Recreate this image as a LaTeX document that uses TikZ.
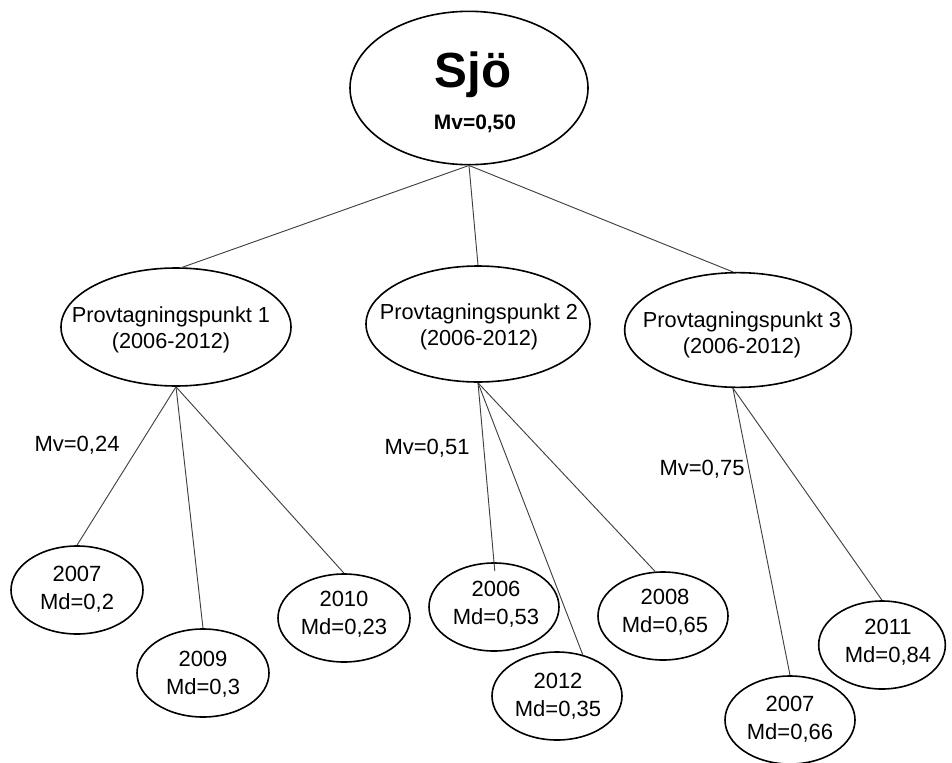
\documentclass[tikz,border=0pt]{standalone}
\usepackage{fontspec}
\setmainfont{Liberation Sans}
\usetikzlibrary{shapes.geometric}
\begin{document}
\begin{tikzpicture}[x=0.75pt,y=-0.75pt,
  ell/.style={draw=black, line width=1.2pt, ellipse, inner sep=0pt},
  leaf/.style={ell, minimum width=99pt, minimum height=66pt},
  leafs/.style={ell, minimum width=97.5pt, minimum height=66pt},
  txt/.style={align=center, inner sep=0pt, font=\fontsize{16.5}{21}\selectfont},
  ptxt/.style={align=center, inner sep=0pt, font=\fontsize{16.3}{19.5}\selectfont},
  link/.style={draw=black!75, line width=0.7pt}]
\useasboundingbox (0,0) rectangle (952,763);

% top node
\node[ell, minimum width=178.5pt, minimum height=115pt] (top) at (469,88) {};
\node[anchor=base, inner sep=0pt, font=\fontsize{37}{44}\selectfont\bfseries] (sjo) at (473,88) {Sjö};
\node[anchor=base, inner sep=0pt, font=\fontsize{15.7}{19}\selectfont\bfseries] (mvtop) at (475,130) {Mv=0,50};

% sampling points
\node[ell, minimum width=172.5pt, minimum height=88.5pt] (p1) at (176,327) {};
\node[ptxt] (p1t) at (171,330) {Provtagningspunkt 1\\(2006-2012)};
\node[ell, minimum width=168pt, minimum height=87pt] (p2) at (478,324) {};
\node[ptxt] (p2t) at (479,327) {Provtagningspunkt 2\\(2006-2012)};
\node[ell, minimum width=170pt, minimum height=86pt] (p3) at (738,330) {};
\node[ptxt] (p3t) at (742,335) {Provtagningspunkt 3\\(2006-2012)};

% leaves of point 1
\node[leaf] (a2007) at (77,590) {};
\node[txt] (a2007t) at (77,589) {2007\\Md=0,2};
\node[leaf] (a2009) at (203,673) {};
\node[txt] (a2009t) at (203,674) {2009\\Md=0,3};
\node[leaf] (a2010) at (344,618) {};
\node[txt] (a2010t) at (344,614) {2010\\Md=0,23};

% leaves of point 2
\node[leafs] (b2006) at (494,607) {};
\node[txt] (b2006t) at (496,604) {2006\\Md=0,53};
\node[leafs] (b2012) at (557,696) {};
\node[txt] (b2012t) at (558,696) {2012\\Md=0,35};
\node[leafs] (b2008) at (663,616) {};
\node[txt] (b2008t) at (665,612) {2008\\Md=0,65};

% leaves of point 3
\node[leafs] (c2007) at (790,720) {};
\node[txt] (c2007t) at (790,719) {2007\\Md=0,66};
\node[ell, minimum width=95pt, minimum height=66pt] (c2011) at (882,645) {};
\node[txt] (c2011t) at (888,642) {2011\\Md=0,84};

% mean labels
\node[txt] (mv1) at (77,445) {Mv=0,24};
\node[txt] (mv2) at (427,448) {Mv=0,51};
\node[txt] (mv3) at (702,469) {Mv=0,75};

% connectors
\draw[link] (top.south) -- (p1.84);
\draw[link] (top.south) -- (p2.north);
\draw[link] (top.south) -- (p3.95);

\draw[link] (p1.south) -- (a2007.north);
\draw[link] (p1.south) -- (a2009.north);
\draw[link] (p1.south) -- (a2010.north);

\draw[link, shorten >=-6.75pt] (p2.south) -- (b2006.north);
\draw[link] (p2.south) -- (b2012.58);
\draw[link] (p2.south) -- (b2008.100);

\draw[link] (p3.265) -- (c2007.north);
\draw[link] (p3.265) -- (c2011.north);
\end{tikzpicture}
\end{document}
